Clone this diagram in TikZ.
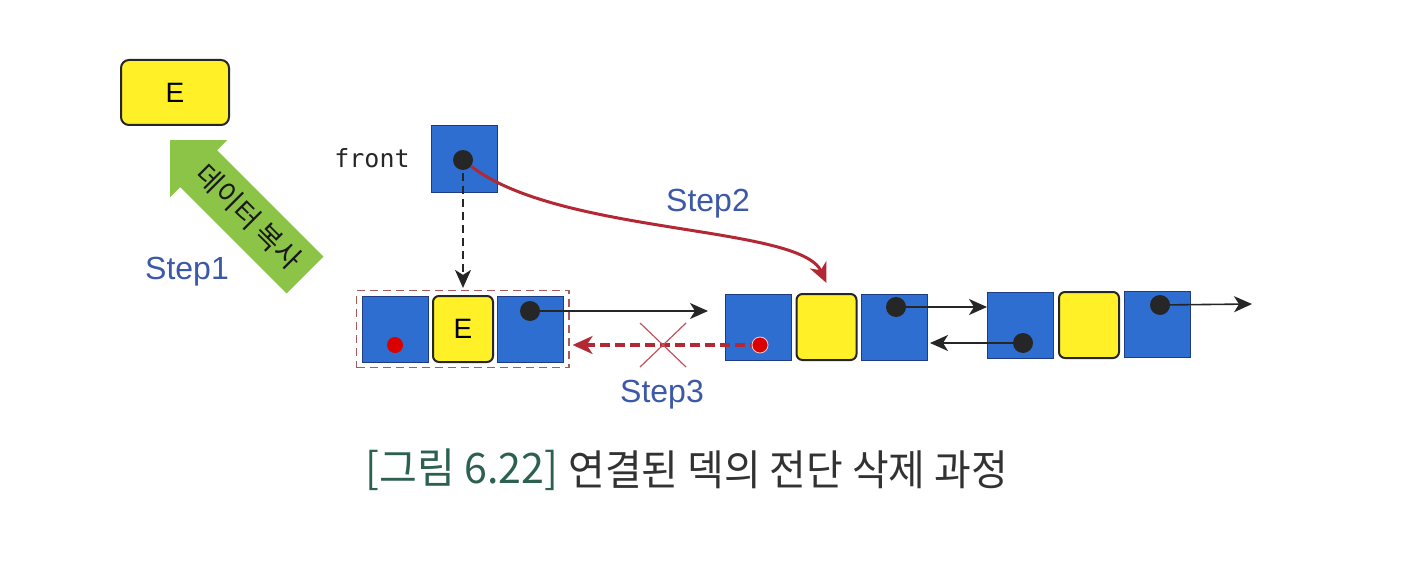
\documentclass[tikz,border=0pt]{standalone}
\usepackage{fontspec}
\setmainfont{Liberation Sans}
\newfontfamily\krfont{Noto Sans CJK KR}
\newfontfamily\monofont{DejaVu Sans Mono}
\usetikzlibrary{arrows.meta,fit,calc}
\definecolor{cellblue}{RGB}{46,110,208}
\definecolor{cellborder}{RGB}{30,60,130}
\definecolor{cellyellow}{RGB}{255,240,40}
\definecolor{stepblue}{RGB}{60,88,168}
\definecolor{arrowred}{RGB}{178,40,52}
\definecolor{boxred}{RGB}{170,90,90}
\definecolor{arrowgreen}{RGB}{140,196,72}
\definecolor{captealg}{RGB}{44,96,80}
\definecolor{capgray}{RGB}{50,50,50}
\begin{document}
\begin{tikzpicture}[x=0.5pt,y=-0.5pt,
  bcell/.style={draw=cellborder, line width=0.5pt, fill=cellblue, minimum width=33pt, minimum height=33pt, inner sep=0pt},
  ycell/.style={draw=black!85, line width=1pt, fill=cellyellow, rounded corners=3pt, minimum width=30pt, minimum height=33pt, inner sep=0pt, font=\fontsize{14}{14}\selectfont},
  bdot/.style={circle, fill=black!85, minimum size=10pt, inner sep=0pt},
  rdot/.style={circle, fill=red!85!black, minimum size=8pt, inner sep=0pt},
  ptr/.style={-{Stealth[length=9pt,width=8pt,inset=2.5pt]}, line width=0.8pt, draw=black!85},
  steplbl/.style={text=stepblue, font=\fontsize{16}{16}\selectfont},
  redarr/.style={-{Stealth[length=10pt,width=9pt,inset=3pt,fill=arrowred]}, line width=1.5pt, draw=arrowred}
]
\useasboundingbox (0,0) rectangle (1402,567);

% copied data box
\node[draw=black!85, line width=1pt, fill=cellyellow, rounded corners=4pt, minimum width=54pt, minimum height=32.5pt, inner sep=0pt, font=\fontsize{14}{14}\selectfont] (ebox) at (175,92.5) {E};

% green arrow
\begin{scope}[shift={(170,140)}, rotate=-45]
  \fill[arrowgreen] (0,0) -- (40.6,-40.6) -- (40.6,-26) -- (191,-26) -- (191,26) -- (40.6,26) -- (40.6,40.6) -- cycle;
\end{scope}
\node[rotate=-45, text=black!90, inner sep=0pt, font=\krfont\fontsize{14}{14}\selectfont] (copytxt) at (249,217) {데이터 복사};
\node[steplbl] (step1) at (187,272) {Step1};

% front pointer
\node[font=\monofont\fontsize{12.5}{12.5}\selectfont, text=black!85] (frontlbl) at (372,158) {front};
\node[bcell] (front) at (464,159) {};
\node[bdot] (fdot) at (463,160) {};

% row 1 (removed node)
\node[bcell] (a1) at (395,329) {};
\node[ycell] (a2) at (463,329) {E};
\node[bcell] (a3) at (530.5,329) {};
\node[draw=boxred, line width=0.6pt, dash pattern=on 4pt off 2.5pt, fit=(a1)(a3), inner sep=2.5pt] (delbox) {};
\node[rdot] (a1dot) at (395,345) {};
\node[bdot] (a3dot) at (530,311) {};

% row 2
\node[bcell] (b1) at (758.5,327) {};
\node[ycell] (b2) at (826.5,327) {};
\node[bcell] (b3) at (894.5,327) {};
\node[bdot] (b3dot) at (896,307) {};

% row 3
\node[bcell] (c1) at (1020.5,325) {};
\node[ycell] (c2) at (1089,325) {};
\node[bcell] (c3) at (1157,324) {};
\node[bdot] (c1dot) at (1023,343) {};
\node[bdot] (c3dot) at (1160,305) {};

\coordinate (t1) at (708,311);
\coordinate (t4) at (1252,304);

% links
\draw[ptr] (a3dot.center) -- (t1);
\draw[ptr] (b3dot.center) -- (b3dot.center -| c1.west);
\draw[ptr] (c1dot.center) -- ($(c1dot.center -| b3.east)+(2,0)$);
\draw[ptr] (c3dot.center) -- (t4);

% front -> old node (dashed)
\draw[ptr, dash pattern=on 4pt off 2.5pt] (fdot.center) -- ($(fdot.center |- delbox.north)+(0,-2)$);

% Step2 curve
\draw[redarr] (fdot) .. controls (560,235) and (800,225) .. ($(b2.north)+(0,-10)$);
\node[steplbl] (step2) at (708,204) {Step2};

% Step3 dashed back link
\node[rdot] (b1dot) at (760,345) {};
\draw[redarr, dash pattern=on 5pt off 2.5pt, line width=1.6pt] (b1dot.center) -- ($(b1dot.center -| delbox.east)+(3,0)$);
\node[rdot, draw=white!80!red, line width=0.4pt] at (760,345) {};
\coordinate (xc) at (663,345);
\draw[arrowred!80, line width=0.6pt] ($(xc)+(-23,-22)$) -- ($(xc)+(23,22)$);
\draw[arrowred!80, line width=0.6pt] ($(xc)+(-23,22)$) -- ($(xc)+(23,-22)$);
\node[steplbl] (step3) at (662,395) {Step3};

% caption
\node[anchor=west, text=captealg, font=\krfont\fontsize{21}{21}\selectfont, inner sep=0pt] (cap1) at (365,470) {\scalebox{0.98}[1]{[그림 6.22]}};
\node[anchor=west, text=capgray, font=\krfont\fontsize{21}{21}\selectfont, inner sep=0pt] (cap2) at (568,470) {\scalebox{0.95}[1]{연결된 덱의 전단 삭제 과정}};
\end{tikzpicture}
\end{document}
